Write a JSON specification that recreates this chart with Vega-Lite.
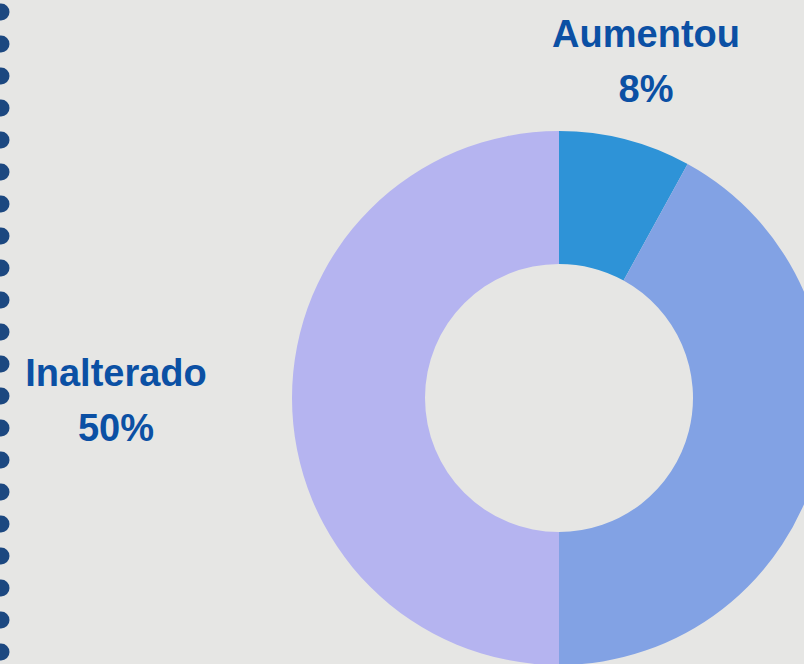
{
  "$schema": "https://vega.github.io/schema/vega-lite/v6.json",
  "width": 804,
  "height": 664,
  "autosize": "none",
  "padding": 0,
  "background": "#E6E6E4",
  "config": {"view": {"stroke": null}},
  "datasets": {
    "parts": [
      {"name": "Aumentou", "pct": "8%", "value": 8},
      {"name": "Diminuiu", "pct": "42%", "value": 42},
      {"name": "Inalterado", "pct": "50%", "value": 50}
    ],
    "dots": [
      {"k": 0}, {"k": 1}, {"k": 2}, {"k": 3}, {"k": 4}, {"k": 5}, {"k": 6},
      {"k": 7}, {"k": 8}, {"k": 9}, {"k": 10}, {"k": 11}, {"k": 12}, {"k": 13},
      {"k": 14}, {"k": 15}, {"k": 16}, {"k": 17}, {"k": 18}, {"k": 19}, {"k": 20}
    ]
  },
  "layer": [
    {
      "data": {"name": "dots"},
      "mark": {"type": "point", "shape": "circle", "filled": true, "size": 289, "opacity": 1, "color": "#1C4880"},
      "encoding": {
        "x": {"value": 1},
        "y": {"field": "k", "type": "quantitative", "scale": {"domain": [-0.375, 20.375], "reverse": true, "nice": false, "zero": false}, "axis": null}
      }
    },
    {
      "data": {"name": "parts"},
      "layer": [
        {
          "mark": {"type": "arc", "x": 559, "y": 398, "outerRadius": 267, "innerRadius": 134},
          "encoding": {
            "theta": {"field": "value", "type": "quantitative", "stack": true},
            "order": {"field": "name", "type": "nominal", "sort": "ascending"},
            "color": {"field": "name", "type": "nominal", "scale": {"domain": ["Aumentou", "Diminuiu", "Inalterado"], "range": ["#2E93D7", "#82A2E4", "#B5B4F0"]}, "legend": null}
          }
        },
        {
          "mark": {"type": "text", "x": 559, "y": 398, "radius": {"expr": "datum.name === 'Inalterado' ? 443 : 350"}, "dy": -12, "align": "center", "baseline": "alphabetic", "font": "Liberation Sans", "fontWeight": "bold", "fontSize": 38, "color": "#0B50A4"},
          "encoding": {
            "theta": {"field": "value", "type": "quantitative", "stack": true},
            "order": {"field": "name", "type": "nominal", "sort": "ascending"},
            "text": {"condition": {"test": "datum.name === 'Diminuiu'", "value": ""}, "field": "name", "type": "nominal"}
          }
        },
        {
          "mark": {"type": "text", "x": 559, "y": 398, "radius": {"expr": "datum.name === 'Inalterado' ? 443 : 350"}, "dy": 43, "align": "center", "baseline": "alphabetic", "font": "Liberation Sans", "fontWeight": "bold", "fontSize": 38, "color": "#0B50A4"},
          "encoding": {
            "theta": {"field": "value", "type": "quantitative", "stack": true},
            "order": {"field": "name", "type": "nominal", "sort": "ascending"},
            "text": {"condition": {"test": "datum.name === 'Diminuiu'", "value": ""}, "field": "pct", "type": "nominal"}
          }
        }
      ]
    }
  ]
}
